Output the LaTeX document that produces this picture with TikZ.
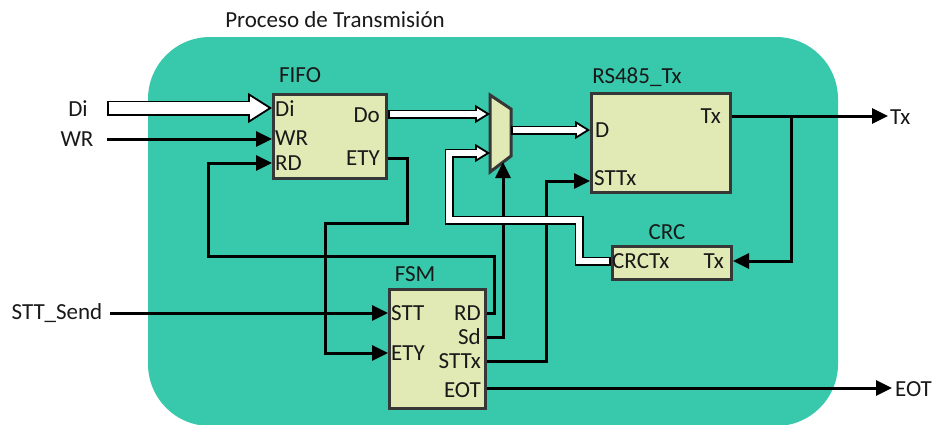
\documentclass[tikz,border=0pt]{standalone}
\usepackage{fontspec}
\setmainfont{Carlito}
\usetikzlibrary{arrows.meta}
\definecolor{bgteal}{RGB}{56,200,171}
\definecolor{boxfill}{RGB}{225,233,180}
\definecolor{boxline}{RGB}{55,55,55}
% hollow bus arrow: #1 outer width, #2 inner width, #3 head length, #4 head width, #5 black shorten, #6 white shorten, #7 path
\newcommand\hbus[7]{%
  \draw[line width=#1, black, line join=miter, shorten >=#5] #7;
  \draw[line width=#2, white, line join=miter, shorten <=1.6pt,
        -{Triangle[length=#3, width=#4, fill=white, color=black, line width'=1.8pt]}] #7;
  \draw[line width=#2, white, line join=miter, shorten <=1.6pt, shorten >=#6] #7;
}
\begin{document}
\begin{tikzpicture}[x=1pt,y=-1pt,
  blk/.style={draw=boxline, fill=boxfill, line width=3pt, inner sep=0pt, anchor=north west},
  lbl/.style={font=\fontsize{23}{26}\selectfont, inner sep=0pt, text=black!90},
  sig/.style={line width=3pt, -{Triangle[length=16pt,width=15pt]}},
  wire/.style={line width=3pt}]
\useasboundingbox (0,0) rectangle (935,424);
\fill[bgteal, rounded corners=62pt] (148,37) rectangle (838,426);
\node[lbl] (title) at (335,20) {Proceso de Transmisión};

% blocks
\node[blk, minimum width=113pt, minimum height=84pt] (fifo) at (272,93) {};
\node[blk, minimum width=139pt, minimum height=99pt] (rs) at (590,92) {};
\node[blk, minimum width=119pt, minimum height=33pt] (crc) at (611,245) {};
\node[blk, minimum width=96pt, minimum height=119pt] (fsm) at (388,288) {};
\draw[draw=boxline, fill=boxfill, line width=3pt, line join=miter]
  (490,95) coordinate (muxa) -- (511,109) coordinate (muxb) -- (511,156) coordinate (muxc)
  -- (490,172) coordinate (muxd) -- cycle;
\coordinate (muxin1) at (490,114);
\coordinate (muxin2) at (490,153);
\coordinate (muxout) at (511,130);
\coordinate (muxsel) at (503,162);

% block titles
\node[lbl] (fifot) at (300,75) {FIFO};
\node[lbl] (rst) at (637,77) {RS485\_Tx};
\node[lbl] (crct) at (667,232) {CRC};
\node[lbl] (fsmt) at (415,274) {FSM};

% port labels
\node[lbl, anchor=west] (fdi) at (275,109) {Di};
\node[lbl, anchor=west] (fwr) at (275,138) {WR};
\node[lbl, anchor=west] (frd) at (275,163) {RD};
\node[lbl, anchor=east] (fdo) at (380,115) {Do};
\node[lbl, anchor=east] (fety) at (380,158) {ETY};
\node[lbl, anchor=west] (sstt) at (391,313) {STT};
\node[lbl, anchor=west] (sety) at (391,353) {ETY};
\node[lbl, anchor=east] (srd) at (481,313) {RD};
\node[lbl, anchor=east] (ssd) at (481,337) {Sd};
\node[lbl, anchor=east] (sst) at (481,361) {STTx};
\node[lbl, anchor=east] (seot) at (481,390) {EOT};
\node[lbl, anchor=west] (rd) at (595,130) {D};
\node[lbl, anchor=west] (rstt) at (594,178) {STTx};
\node[lbl, anchor=east] (rtx) at (721,116) {Tx};
\node[lbl, anchor=west] (ccrc) at (612,261) {CRCTx};
\node[lbl, anchor=east] (ctx) at (724,261) {Tx};

% external labels
\node[lbl] (xdi) at (78,109) {Di};
\node[lbl] (xwr) at (77,139) {WR};
\node[lbl] (xstt) at (57,313) {STT\_Send};
\node[lbl, anchor=west] (xtx) at (890,117) {Tx};
\node[lbl, anchor=west] (xeot) at (895,389) {EOT};
\coordinate (din) at (107,108);
\coordinate (wrin) at (107,139);
\coordinate (sttin) at (110,313);
\coordinate (txout) at (888,116);
\coordinate (eotout) at (892,388);

% signals
\draw[sig] (wrin) -- (fifo.west |- wrin);
\draw[sig] (fsm.east |- 0,313) -- (494,313) -- (494,256) -- (208,256) -- (208,163) -- (fifo.west |- 0,163);
\draw[sig] (fifo.east |- 0,158) -- (407,158) -- (407,223) -- (325,223) -- (325,353) -- (fsm.west |- 0,353);
\draw[sig] (sttin) -- (fsm.west |- sttin);
\draw[sig] (fsm.east |- 0,337) -- (503,337) -- (muxsel);
\draw[sig] (fsm.east |- 0,361) -- (546,361) -- (546,181) -- (rs.west |- 0,181);
\draw[sig] (fsm.east |- eotout) -- (eotout);
\draw[sig] (rs.east |- txout) -- (txout);
\draw[sig] (791,116) -- (791,261) -- (crc.east |- 0,261);

% buses
\hbus{15pt}{11.4pt}{24pt}{30pt}{22pt}{21pt}{(din) -- (fifo.west |- din)}
\hbus{9pt}{5.4pt}{15pt}{18pt}{13pt}{12pt}{(fifo.east |- muxin1) -- (muxin1)}
\hbus{9pt}{5.4pt}{15pt}{18pt}{13pt}{12pt}{(muxout) -- (rs.west |- muxout)}
\hbus{9pt}{5.4pt}{15pt}{18pt}{13pt}{12pt}{(crc.west |- 0,261) -- (579,261) -- (579,220) -- (449,220) -- (449,153) -- (muxin2)}
\end{tikzpicture}
\end{document}
